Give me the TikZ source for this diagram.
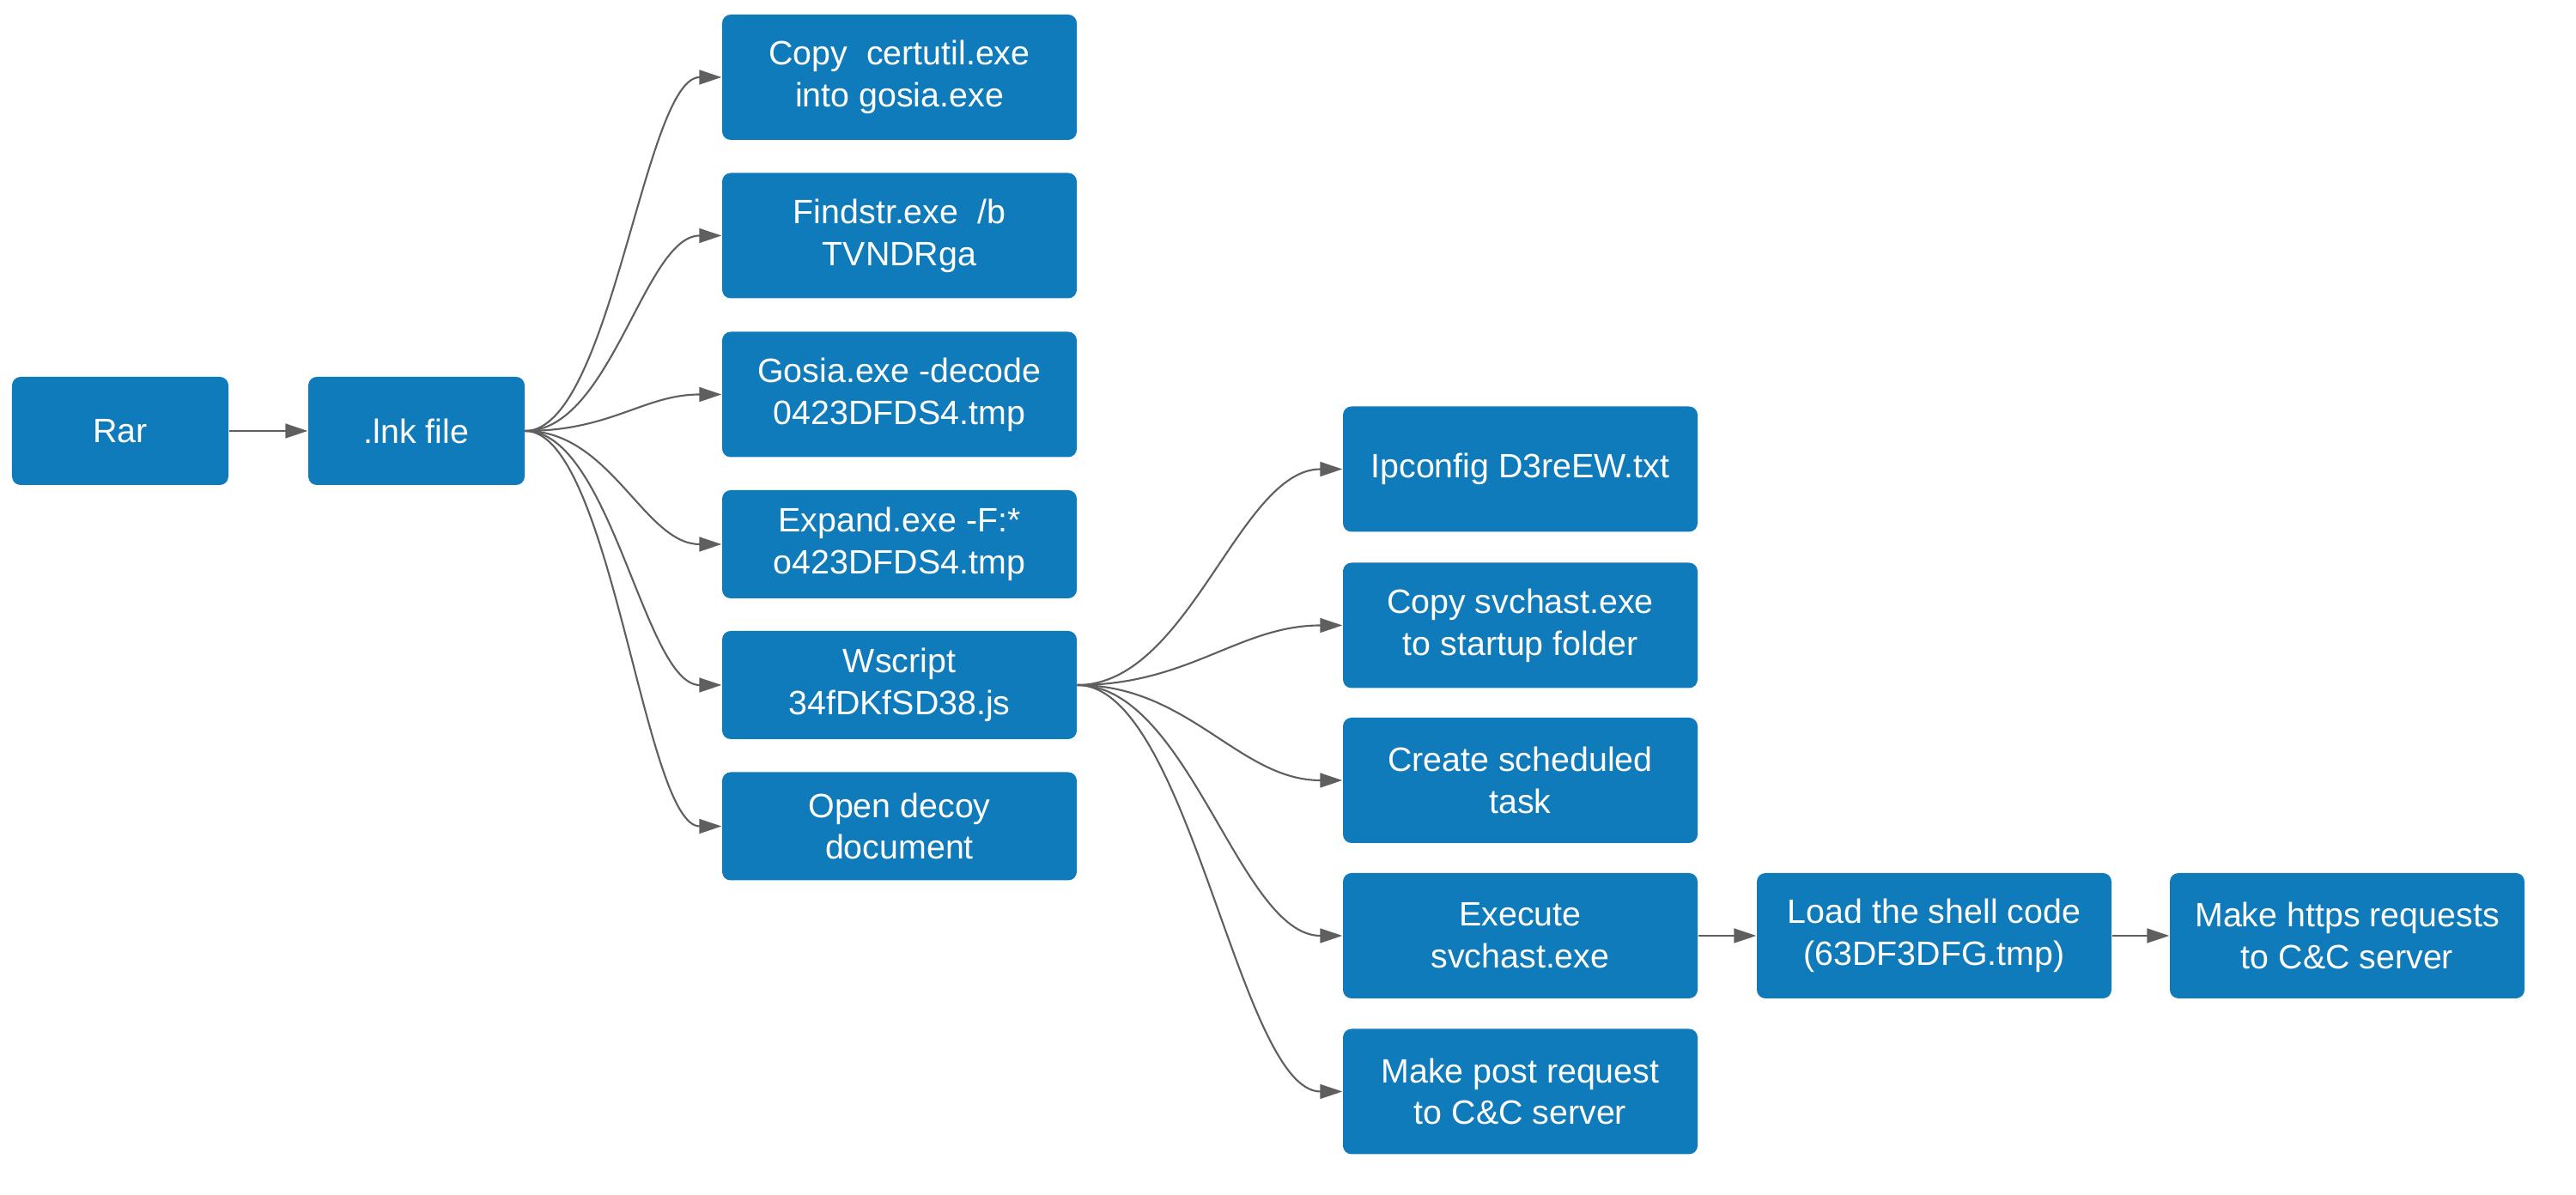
\documentclass[tikz,border=0pt]{standalone}
\usepackage{fontspec}
\setmainfont{Liberation Sans}
\usetikzlibrary{arrows.meta}
\definecolor{boxblue}{RGB}{16,123,187}
\definecolor{linegray}{RGB}{95,95,95}
\begin{document}
\begin{tikzpicture}[
  box/.style={draw=none, fill=boxblue, rounded corners=0.1cm, text=white, align=center,
    font=\fontsize{11.2pt}{13.9pt}\selectfont, inner sep=0pt},
  small/.style={box, minimum width=2.52cm, minimum height=1.26cm},
  big/.style={box, minimum width=4.13cm, minimum height=1.46cm},
  mid/.style={box, minimum width=4.13cm, minimum height=1.26cm},
  conn/.style={draw=linegray, line width=0.6pt, -{Triangle[length=7.4pt,width=4.8pt]}}
]
\useasboundingbox (0,0) rectangle (30,13.92);

\node[small] (rar) at (1.40,8.90) {Rar};
\node[small] (lnk) at (4.85,8.90) {.lnk file};

\node[big] (copy) at (10.475,13.02) {Copy\ \ certutil.exe\\into gosia.exe};
\node[big] (find) at (10.475,11.175) {Findstr.exe\ \ /b\\TVNDRga};
\node[big] (gosia) at (10.475,9.325) {Gosia.exe -decode\\0423DFDS4.tmp};
\node[mid] (expand) at (10.475,7.58) {Expand.exe -F:*\\o423DFDS4.tmp};
\node[mid] (wscript) at (10.475,5.94) {Wscript\\34fDKfSD38.js};
\node[mid] (decoy) at (10.475,4.295) {Open decoy\\document};

\node[big] (ipconfig) at (17.705,8.455) {Ipconfig D3reEW.txt};
\node[big] (copysvc) at (17.705,6.635) {Copy svchast.exe\\to startup folder};
\node[big] (task) at (17.705,4.83) {Create scheduled\\task};
\node[big] (exec) at (17.705,3.02) {Execute\\svchast.exe};
\node[big] (post) at (17.705,1.205) {Make post request\\to C\&C server};

\node[big] (load) at (22.525,3.02) {Load the shell code\\(63DF3DFG.tmp)};
\node[big] (https) at (27.335,3.02) {Make https requests\\to C\&C server};

\draw[conn] (rar) -- (lnk);

\foreach \t in {copy,find,gosia,expand,wscript,decoy}
  \draw[conn] (lnk.east) .. controls +(1.0,0) and +(-0.9,0) .. (\t.west);

\foreach \t in {ipconfig,copysvc,task,exec,post}
  \draw[conn] (wscript.east) .. controls +(1.3,0) and +(-1.2,0) .. (\t.west);

\draw[conn] (exec) -- (load);
\draw[conn] (load) -- (https);
\end{tikzpicture}
\end{document}
